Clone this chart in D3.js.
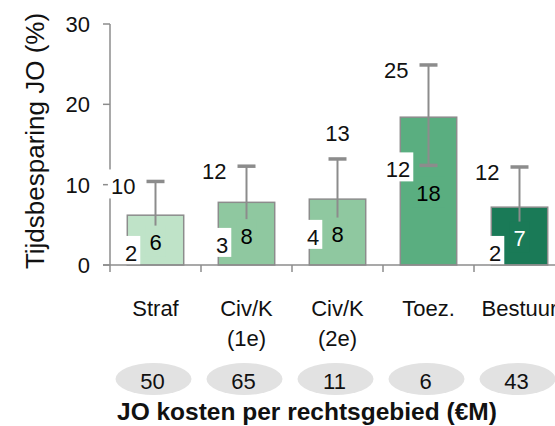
<!DOCTYPE html>
<html><head><meta charset="utf-8">
<script src="https://cdn.jsdelivr.net/npm/d3@7"></script>
<style>body{margin:0;background:#fff;}svg{display:block;font-family:"Liberation Sans",Arial,sans-serif;}</style>
</head><body>
<svg id="c" width="555" height="426"></svg>
<script>
const categories = [["Straf"], ["Civ/K","(1e)"], ["Civ/K","(2e)"], ["Toez."], ["Bestuur"]];
const barValues = [6.2, 7.8, 8.2, 18.4, 7.2];
const lowValues = [2, 3, 4, 12.4, 2];
const highValues = [10.4, 12.3, 13.2, 24.9, 12.2];
const costs = [50, 65, 11, 6, 43];
const yTicks = [0, 10, 20, 30];
const barColors = ["#bfe3c8", "#8fc8a0", "#8fc8a0", "#5aae80", "#1a7a57"];
const valueTextColors = ["#000", "#000", "#000", "#000", "#fff"];
const highLabelPlacement = ["left", "left", "above", "left", "left"];

const svg = d3.select("#c");
const fs = 22;
const gray = "#8c8c8c";
const idx = d3.range(categories.length);

const y = d3.scaleLinear().domain([0, 30]).range([265, 24]);
const x = d3.scaleBand().domain(idx).range([110, 565]).paddingInner(0.38).paddingOuter(0.19);
const step = x.step();
const cx = i => x(i) + x.bandwidth() / 2;

// y axis
svg.append("line").attr("x1", 110).attr("x2", 110).attr("y1", y(30)).attr("y2", y(0) + 7)
  .attr("stroke", gray).attr("stroke-width", 1.5);
svg.selectAll(".yt").data(yTicks).join("line")
  .attr("x1", 103).attr("x2", 110).attr("y1", d => y(d)).attr("y2", d => y(d))
  .attr("stroke", gray).attr("stroke-width", 1.5);
svg.selectAll(".ytl").data(yTicks).join("text")
  .attr("x", 90).attr("y", d => y(d) + 8).attr("text-anchor", "end")
  .attr("font-size", fs).attr("fill", "#111").text(d => d);

// axis title
svg.append("text").attr("transform", "translate(44,141) rotate(-90)")
  .attr("text-anchor", "middle").attr("font-size", 26).attr("fill", "#111")
  .text("Tijdsbesparing JO (%)");

// bars
svg.selectAll(".bar").data(idx).join("rect")
  .attr("x", i => x(i)).attr("width", x.bandwidth())
  .attr("y", i => y(barValues[i])).attr("height", i => y(0) - y(barValues[i]))
  .attr("fill", i => barColors[i]).attr("stroke", gray).attr("stroke-width", 1.5);

// error bars
const capW = 18;
idx.forEach(i => {
  const c = cx(i);
  svg.append("line").attr("x1", c).attr("x2", c).attr("y1", y(lowValues[i])).attr("y2", y(highValues[i]))
    .attr("stroke", gray).attr("stroke-width", 2);
  [lowValues[i], highValues[i]].forEach(v => {
    svg.append("line").attr("x1", c - capW / 2).attr("x2", c + capW / 2).attr("y1", y(v)).attr("y2", y(v))
      .attr("stroke", gray).attr("stroke-width", 3.5);
  });
});

// value labels inside bars (with bar-coloured background)
idx.forEach(i => {
  const c = cx(i);
  const cy = y(barValues[i] / 2) + 2;
  const t = String(Math.round(barValues[i]));
  const w = t.length * 12.5 + 8;
  svg.append("rect").attr("x", c - w / 2).attr("y", cy - 16.5).attr("width", w).attr("height", 31)
    .attr("fill", barColors[i]);
  svg.append("text").attr("x", c).attr("y", cy + 8).attr("text-anchor", "middle")
    .attr("font-size", fs).attr("fill", valueTextColors[i]).text(t);
});

function boxedLabel(xEnd, cy, t, anchor) {
  const w = t.length * 12.3;
  let x0 = anchor === "end" ? xEnd - w : (anchor === "middle" ? xEnd - w / 2 : xEnd);
  svg.append("rect").attr("x", x0 - 3).attr("y", cy - 17).attr("width", w + 6).attr("height", 29).attr("fill", "#fff");
  svg.append("text").attr("x", xEnd).attr("y", cy + 8).attr("text-anchor", anchor)
    .attr("font-size", fs).attr("fill", "#111").text(t);
}

// low labels
idx.forEach(i => {
  boxedLabel(x(i) + 10, Math.min(y(lowValues[i]) + 4, 256), String(Math.round(lowValues[i])), "end");
});
// high labels
idx.forEach(i => {
  const t = String(Math.round(highValues[i]));
  if (highLabelPlacement[i] === "above") {
    boxedLabel(cx(i), y(highValues[i]) - 26, t, "middle");
  } else {
    boxedLabel(cx(i) - capW / 2 - 11, y(highValues[i]) + 5, t, "end");
  }
});

// x axis baseline and ticks
svg.append("line").attr("x1", 103).attr("x2", 555).attr("y1", y(0)).attr("y2", y(0))
  .attr("stroke", gray).attr("stroke-width", 1.5);
idx.slice(1).forEach(i => {
  const tx = x(i) - step * 0.19;
  svg.append("line").attr("x1", tx).attr("x2", tx).attr("y1", y(0)).attr("y2", y(0) + 7)
    .attr("stroke", gray).attr("stroke-width", 1.5);
});

// category labels
idx.forEach(i => {
  categories[i].forEach((line, k) => {
    svg.append("text").attr("x", cx(i)).attr("y", 316 + k * 30).attr("text-anchor", "middle")
      .attr("font-size", fs).attr("fill", "#111").text(line);
  });
});

// cost ellipses
idx.forEach(i => {
  svg.append("ellipse").attr("cx", cx(i) - 2).attr("cy", 379).attr("rx", 38).attr("ry", 16).attr("fill", "#e2e2e2");
  svg.append("text").attr("x", cx(i) - 3).attr("y", 389).attr("text-anchor", "middle")
    .attr("font-size", fs).attr("fill", "#111").text(costs[i]);
});

svg.append("text").attr("x", 117).attr("y", 420).attr("font-size", 24.5).attr("font-weight", "bold")
  .attr("fill", "#111").text("JO kosten per rechtsgebied (€M)");
</script>
</body></html>
